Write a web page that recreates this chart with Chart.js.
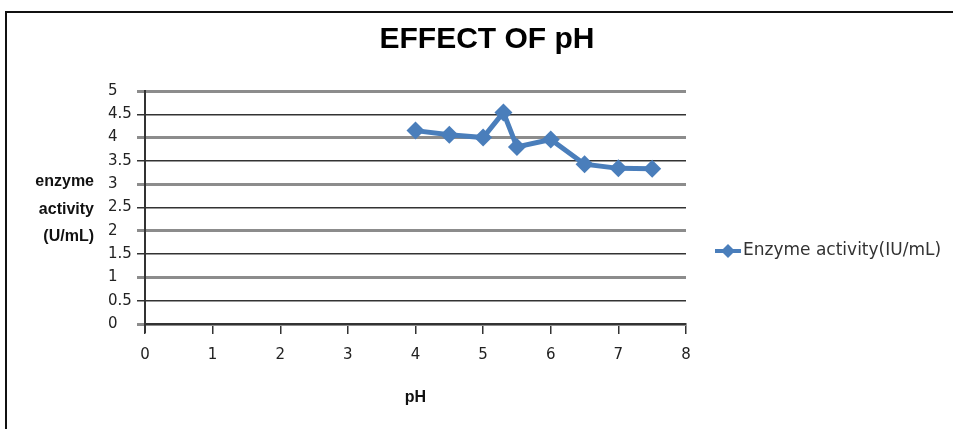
<!DOCTYPE html>
<html>
<head>
<meta charset="utf-8">
<script src="https://cdn.jsdelivr.net/npm/chart.js@4"></script>
<style>
  html, body { margin: 0; padding: 0; background: #fff; overflow: hidden; }
  #wrap { position: relative; width: 953px; height: 429px; }
  #frame {
    position: absolute; left: 5px; top: 11px; width: 1000px; height: 500px;
    border-left: 2px solid #111; border-top: 2px solid #111; pointer-events: none;
  }
  canvas { position: absolute; left: 0; top: 0; }
</style>
</head>
<body>
<div id="wrap">
  <canvas id="phChart" width="953" height="429"></canvas>
  <div id="frame"></div>
</div>
<script>
const chartTitle = "EFFECT OF pH";
const seriesLabel = "Enzyme activity(IU/mL)";
const xTitle = "pH";
const yTitleLines = ["enzyme", "activity", "(U/mL)"];

const phValues = [4, 4.5, 5, 5.3, 5.5, 6, 6.5, 7, 7.5];
const activity = [4.15, 4.06, 4.0, 4.54, 3.80, 3.96, 3.43, 3.34, 3.33];

const blue = "#4a7ebb";
const tickFont = { family: "DejaVu Sans", size: 15 };

// title is centred on the whole frame, not on the plot
const topTitle = {
  id: "topTitle",
  afterDraw(chart) {
    const ctx = chart.ctx;
    ctx.save();
    ctx.font = "bold 30px 'Liberation Sans', Arial, sans-serif";
    ctx.fillStyle = "#000";
    ctx.textAlign = "center";
    ctx.textBaseline = "middle";
    ctx.fillText(chartTitle, 487, 40);
    ctx.restore();
  }
};

// y title sits horizontally left of the axis, three lines
const yTitlePlugin = {
  id: "yTitle",
  afterDraw(chart) {
    const ctx = chart.ctx;
    ctx.save();
    ctx.font = "bold 16px 'Liberation Sans', Arial, sans-serif";
    ctx.fillStyle = "#111";
    ctx.textAlign = "right";
    ctx.textBaseline = "middle";
    const ys = [182, 210, 237];
    yTitleLines.forEach((t, i) => ctx.fillText(t, 94, ys[i]));
    ctx.restore();
  }
};

// legend on the right, drawn from the dataset
const sideLegend = {
  id: "sideLegend",
  afterDraw(chart) {
    const ctx = chart.ctx;
    const ds = chart.data.datasets[0];
    const x = 728, y = 251;
    ctx.save();
    ctx.strokeStyle = ds.borderColor;
    ctx.lineWidth = 4;
    ctx.beginPath();
    ctx.moveTo(x - 13, y);
    ctx.lineTo(x + 13, y);
    ctx.stroke();
    ctx.fillStyle = ds.borderColor;
    ctx.beginPath();
    ctx.moveTo(x, y - 7);
    ctx.lineTo(x + 7, y);
    ctx.lineTo(x, y + 7);
    ctx.lineTo(x - 7, y);
    ctx.closePath();
    ctx.fill();
    ctx.font = "17px 'DejaVu Sans', sans-serif";
    ctx.fillStyle = "#333";
    ctx.textAlign = "left";
    ctx.textBaseline = "middle";
    ctx.fillText(ds.label, 743, y);
    ctx.restore();
  }
};

// y axis line runs a little past the x axis, like the original
const axisStub = {
  id: "axisStub",
  afterDraw(chart) {
    const ctx = chart.ctx;
    const a = chart.chartArea;
    ctx.save();
    ctx.strokeStyle = "#333";
    ctx.lineWidth = 2;
    ctx.beginPath();
    ctx.moveTo(a.left, a.bottom);
    ctx.lineTo(a.left, a.bottom + 9);
    ctx.stroke();
    ctx.restore();
  }
};

new Chart(document.getElementById("phChart"), {
  type: "line",
  data: {
    datasets: [{
      label: seriesLabel,
      data: phValues.map((p, i) => ({ x: p, y: activity[i] })),
      borderColor: blue,
      backgroundColor: blue,
      borderWidth: 5,
      tension: 0,
      pointStyle: "rectRot",
      pointRadius: 9,
      pointHoverRadius: 9,
      pointBackgroundColor: blue,
      pointBorderColor: blue,
      pointBorderWidth: 0
    }]
  },
  options: {
    responsive: false,
    animation: false,
    layout: { padding: { left: 108, right: 267, top: 91, bottom: 0 } },
    plugins: {
      legend: { display: false },
      tooltip: { enabled: false },
      title: { display: false }
    },
    scales: {
      x: {
        type: "linear",
        min: 0, max: 8,
        ticks: { stepSize: 1, color: "#222", font: tickFont, padding: 12, maxRotation: 0 },
        grid: { drawOnChartArea: false, tickLength: 10, color: "#333", lineWidth: 1.5 },
        border: { color: "#333", width: 2 },
        title: {
          display: true,
          text: xTitle,
          color: "#111",
          font: { family: "Liberation Sans", size: 16, weight: "bold" },
          padding: { top: 22, bottom: 22 }
        },
        afterFit(scale) { scale.height = 105; }
      },
      y: {
        min: 0, max: 5,
        ticks: {
          stepSize: 0.5, color: "#222", font: tickFont, crossAlign: "far",
          callback: v => String(v)
        },
        grid: {
          tickLength: 8,
          color: c => (c.tick && c.tick.value % 1 === 0) ? "#8c8c8c" : "#333",
          lineWidth: c => (c.tick && c.tick.value % 1 === 0) ? 3 : 1.5
        },
        border: { color: "#333", width: 2 },
        afterFit(scale) { scale.width = 37; }
      }
    }
  },
  plugins: [topTitle, yTitlePlugin, sideLegend, axisStub]
});
</script>
</body>
</html>
